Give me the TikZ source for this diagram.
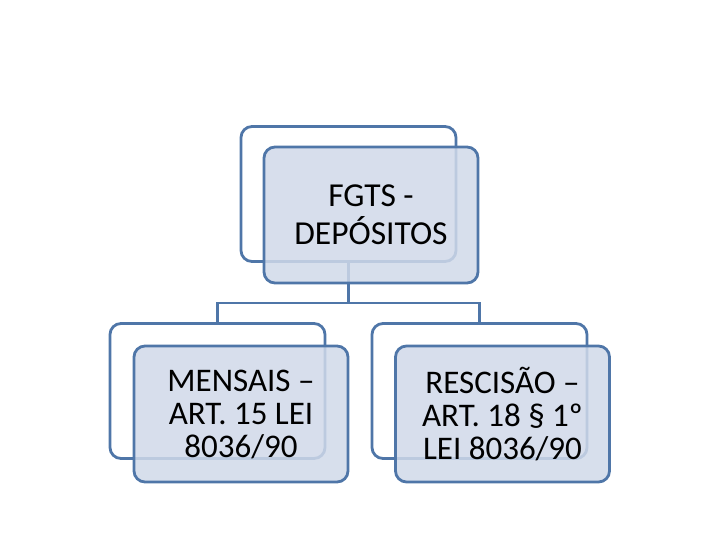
\documentclass[tikz,border=0pt]{standalone}
\usepackage{fontspec}
\setmainfont{Carlito}
\definecolor{edgeblue}{RGB}{79,118,168}
\definecolor{fillblue}{RGB}{208,217,233}
\begin{document}
\begin{tikzpicture}[x=1pt,y=-1pt,
  backbox/.style={draw=edgeblue, line width=2.8pt, rounded corners=11pt, fill=white, minimum width=215pt, minimum height=135pt, inner sep=0pt},
  frontbox/.style={draw=edgeblue, line width=2.8pt, rounded corners=11pt, fill=fillblue, fill opacity=0.85, text opacity=1, minimum width=214pt, minimum height=136pt, align=center, inner sep=0pt},
  conn/.style={draw=edgeblue, line width=2.8pt}]
\useasboundingbox (0,0) rectangle (720,540);
\coordinate (mid) at (348.5,303);
\node[backbox] (topB) at (348.5,194) {};
\node[backbox] (leftB) at (217.5,391) {};
\node[backbox] (rightB) at (479.5,391) {};
\draw[conn] (topB.south) -- (mid) -| (leftB.north);
\draw[conn] (mid) -| (rightB.north);
\node[frontbox, font=\fontsize{33.5}{38}\selectfont] (topF) at (371,215) {FGTS -\\DEPÓSITOS};
\node[frontbox, font=\fontsize{33}{33}\selectfont] (leftF) at (241,414) {MENSAIS –\\ART. 15 LEI\\8036/90};
\node[frontbox, font=\fontsize{33}{33}\selectfont] (rightF) at (502.5,414) {RESCISÃO –\\ART. 18 § 1º\\LEI 8036/90};
\end{tikzpicture}
\end{document}
